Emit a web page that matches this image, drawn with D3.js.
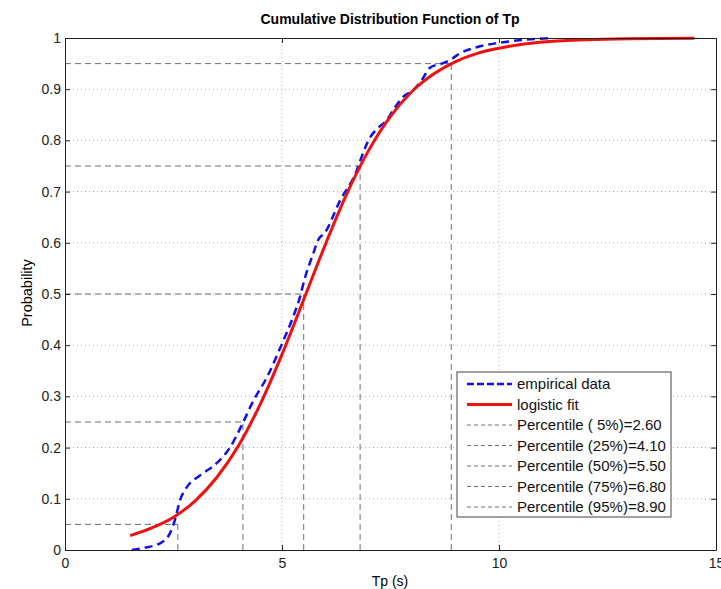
<!DOCTYPE html>
<html>
<head>
<meta charset="utf-8">
<script src="https://cdn.jsdelivr.net/npm/d3@7"></script>
<style>
  body { margin: 0; background: #fff; }
  text { font-family: Arial, "Liberation Sans", sans-serif; }
</style>
</head>
<body>
<div id="chart"></div>
<script>
// empirical CDF (blue dashed)
const empX = [1.54, 1.8, 2.19, 2.42, 2.53, 2.65, 2.8, 3.1, 3.5, 3.8, 4.08, 4.33, 4.65, 5.0, 5.25, 5.41, 5.53, 5.72, 5.83, 5.99, 6.34, 6.72, 6.8, 7.03, 7.21, 7.42, 7.56, 7.79, 8.02, 8.22, 8.41, 8.71, 8.87, 9.1, 9.49, 9.95, 10.4, 11.2]
const empY = [0, 0.004, 0.013, 0.033, 0.058, 0.097, 0.122, 0.145, 0.17, 0.2, 0.245, 0.29, 0.337, 0.403, 0.454, 0.493, 0.532, 0.579, 0.605, 0.62, 0.683, 0.741, 0.76, 0.806, 0.824, 0.84, 0.859, 0.885, 0.898, 0.918, 0.942, 0.951, 0.957, 0.97, 0.982, 0.99, 0.995, 1]

// logistic fit (red)
const fitX = [1.5, 2.0, 2.5, 3.0, 3.5, 4.0, 4.5, 5.0, 5.5, 6.0, 6.5, 7.0, 7.5, 8.0, 8.5, 9.0, 9.5, 10, 11, 12, 13, 14.5]
const fitY = [0.028, 0.043, 0.064, 0.096, 0.142, 0.204, 0.285, 0.382, 0.489, 0.597, 0.697, 0.781, 0.847, 0.896, 0.93, 0.954, 0.97, 0.98, 0.992, 0.9965, 0.9986, 0.9996]

const pctLevels = [0.05, 0.25, 0.5, 0.75, 0.95]
const pctValues = [2.6, 4.1, 5.5, 6.8, 8.9]
const pctLabels = ["Percentile ( 5%)=2.60", "Percentile (25%)=4.10", "Percentile (50%)=5.50", "Percentile (75%)=6.80", "Percentile (95%)=8.90"]

const xTicks = [0, 5, 10, 15]
const yTicks = [0, 0.1, 0.2, 0.3, 0.4, 0.5, 0.6, 0.7, 0.8, 0.9, 1]

const width = 721, height = 589
const margin = {left: 65, right: 5, top: 38, bottom: 39}

const svg = d3.select('#chart').append('svg')
    .attr('width', width)
    .attr('height', height)

const x = d3.scaleLinear().domain([0, 15]).range([margin.left, width - margin.right])
const y = d3.scaleLinear().domain([0, 1]).range([height - margin.bottom, margin.top])

const pctColor = '#6e6e86'

// grid
svg.append('g').selectAll('line')
    .data(xTicks.slice(1, -1))
    .join('line')
    .attr('x1', d => x(d)).attr('x2', d => x(d))
    .attr('y1', y(0)).attr('y2', y(1))
    .attr('stroke', '#aaa').attr('stroke-dasharray', '1,3')
svg.append('g').selectAll('line')
    .data(yTicks.slice(1, -1))
    .join('line')
    .attr('x1', x(0)).attr('x2', x(15))
    .attr('y1', d => y(d)).attr('y2', d => y(d))
    .attr('stroke', '#aaa').attr('stroke-dasharray', '1,3')

// percentile guides
pctLevels.forEach((p, i) => {
  svg.append('line')
    .attr('x1', x(0)).attr('x2', x(pctValues[i]))
    .attr('y1', y(p)).attr('y2', y(p))
    .attr('stroke', pctColor).attr('stroke-dasharray', '6,4')
  svg.append('line')
    .attr('x1', x(pctValues[i])).attr('x2', x(pctValues[i]))
    .attr('y1', y(0)).attr('y2', y(p))
    .attr('stroke', pctColor).attr('stroke-dasharray', '6,4')
})

const line = d3.line().curve(d3.curveMonotoneX)

svg.append('path')
    .datum(empX.map((d, i) => [x(d), y(empY[i])]))
    .attr('d', line)
    .attr('fill', 'none')
    .attr('stroke', '#1010ee')
    .attr('stroke-width', 2.5)
    .attr('stroke-dasharray', '8,5')

svg.append('path')
    .datum(fitX.map((d, i) => [x(d), y(fitY[i])]))
    .attr('d', line)
    .attr('fill', 'none')
    .attr('stroke', '#f01010')
    .attr('stroke-width', 3)

// axes box with inward ticks
const axB = svg.append('g').attr('transform', `translate(0,${y(0)})`)
    .call(d3.axisBottom(x).tickValues(xTicks).tickSizeInner(-5).tickSizeOuter(0).tickPadding(8))
const axT = svg.append('g').attr('transform', `translate(0,${y(1)})`)
    .call(d3.axisTop(x).tickValues(xTicks).tickSizeInner(-5).tickSizeOuter(0).tickFormat(''))
const axL = svg.append('g').attr('transform', `translate(${x(0)},0)`)
    .call(d3.axisLeft(y).tickValues(yTicks).tickSizeInner(-5).tickSizeOuter(0).tickPadding(4).tickFormat(d3.format('')))
const axR = svg.append('g').attr('transform', `translate(${x(15)},0)`)
    .call(d3.axisRight(y).tickValues(yTicks).tickSizeInner(-5).tickSizeOuter(0).tickFormat(''))

;[axB, axT, axL, axR].forEach(g => {
  g.selectAll('path').attr('stroke', '#222')
  g.selectAll('line').attr('stroke', '#222')
  g.selectAll('text').attr('font-size', 14).attr('fill', '#222')
    .style('font-family', 'Arial, "Liberation Sans", sans-serif')
})

// legend
const lg = svg.append('g').attr('transform', 'translate(457,372)')
lg.append('rect').attr('width', 214).attr('height', 145)
    .attr('fill', '#fff').attr('stroke', '#444')
const rows = [
  {label: 'empirical data', color: '#1010ee', w: 2.5, dash: '7,3'},
  {label: 'logistic fit', color: '#f01010', w: 3, dash: null}
].concat(pctLabels.map(l => ({label: l, color: pctColor, w: 1, dash: '4,3'})))
rows.forEach((r, i) => {
  const yy = 12 + i * 20.5
  lg.append('line').attr('x1', 10).attr('x2', 55).attr('y1', yy).attr('y2', yy)
    .attr('stroke', r.color).attr('stroke-width', r.w)
    .attr('stroke-dasharray', r.dash)
  lg.append('text').attr('x', 60).attr('y', yy).attr('dy', '0.35em')
    .attr('font-size', 15).attr('fill', '#111').text(r.label)
})

// titles
svg.append('text').attr('x', 390).attr('y', 24).attr('text-anchor', 'middle')
    .attr('font-size', 14).attr('font-weight', 'bold').text('Cumulative Distribution Function of Tp')
svg.append('text').attr('x', 390).attr('y', 586).attr('text-anchor', 'middle')
    .attr('font-size', 14).text('Tp (s)')
svg.append('text').attr('transform', 'translate(32,293) rotate(-90)').attr('text-anchor', 'middle')
    .attr('font-size', 14.5).text('Probability')
</script>
</body>
</html>
